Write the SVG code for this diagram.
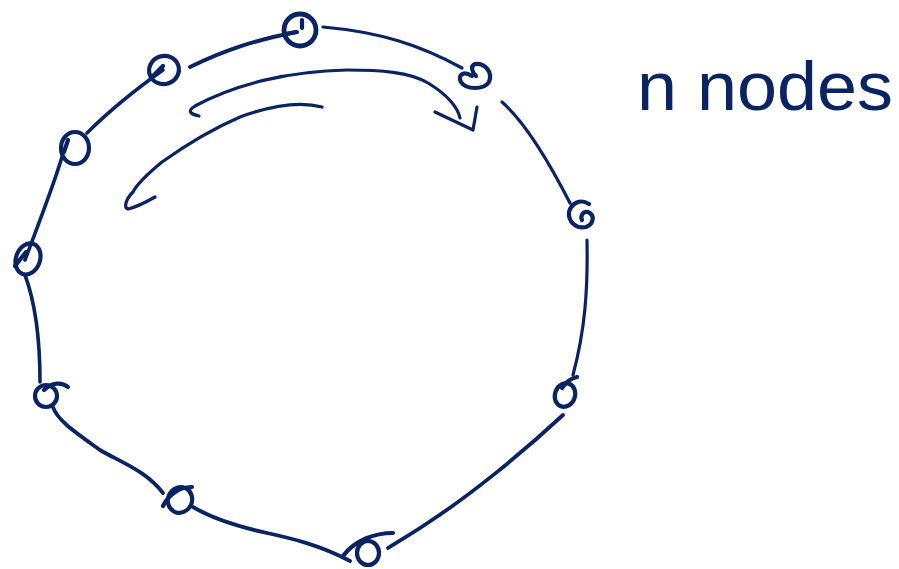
<svg xmlns="http://www.w3.org/2000/svg" width="899" height="569" viewBox="0 0 899 569">
<style>
.s{fill:none;stroke:#0a2463;stroke-width:3.2;stroke-linecap:round;stroke-linejoin:round}
.n{fill:none;stroke:#0a2463;stroke-width:4.2;stroke-linecap:round}
.t{font-family:"Liberation Sans",Arial,sans-serif;fill:#0a2463}
</style>
<rect width="899" height="569" fill="#fff"/>
<g id="connectors">
<path class="s" style="stroke-width:4" d="M190,67 C225,50 255,40 297,32"/>
<path class="s" d="M323,27 C380,32 420,45 462,68"/>
<path class="s" d="M502,102 C525,122 548,160 570,203"/>
<path class="s" d="M587,240 C588,290 585,330 573,375"/>
<path class="s" style="stroke-width:3.8" d="M563,415 C520,455 470,495 432,520 C415,532 400,540 388,548"/>
<path class="s" style="stroke-width:3.8" d="M350,561 C320,545 290,538 267,533 C240,527 215,520 193,507"/>
<path class="s" style="stroke-width:3.8" d="M163,493 C145,470 120,462 100,450 C75,432 57,420 53,407"/>
<path class="s" style="stroke-width:3.6" d="M40,382 C40,350 38,310 25,275"/>
<path class="s" style="stroke-width:3.6" d="M25,260 C38,225 52,190 62,157"/>
<path class="s" style="stroke-width:3.6" d="M87,133 C110,110 135,90 163,70"/>
<path class="s" d="M199,116 C190,114 187,111 195,106 C235,84 290,71 347,70 C380,70 410,72 428,83 C448,95 458,108 460,118"/>
<path class="s" d="M435,112 L473,130 L477,107"/>
<path class="s" d="M322,107 C300,101 270,106 240,117 C210,130 183,147 162,162 C145,176 136,186 133,192 C125,200 124,208 128,209 C137,207 148,201 155,197"/>
</g>
<g id="node1"><ellipse class="n" style="stroke-width:4.8" cx="300" cy="30" rx="16" ry="16"/><path class="n" d="M285,34 L296,32 M302,20 L302,28"/></g>
<g id="node2"><ellipse class="n" cx="164" cy="70" rx="15" ry="14" transform="rotate(-20 164 70)"/><path class="n" d="M151,78 L163,66"/></g>
<g id="node3"><ellipse class="n" cx="75" cy="148" rx="14" ry="16"/><path class="n" d="M64,152 L68,140"/></g>
<g id="node4"><ellipse class="n" cx="28" cy="259" rx="12" ry="16" transform="rotate(20 28 259)"/><path class="n" d="M15,266 L26,252"/></g>
<g id="node5"><ellipse class="n" cx="46" cy="396" rx="11" ry="11"/><path class="n" d="M44,390 C52,382 62,382 68,387"/></g>
<g id="node6"><ellipse class="n" cx="180" cy="500" rx="12" ry="13" transform="rotate(25 180 500)"/><path class="n" d="M163,506 C168,496 178,487 192,487"/></g>
<g id="node7"><ellipse class="n" cx="368" cy="553" rx="11" ry="12"/><path class="n" d="M343,556 C355,540 375,533 393,533"/></g>
<g id="node8"><ellipse class="n" cx="565" cy="395" rx="10" ry="12" transform="rotate(20 565 395)"/><path class="n" d="M562,388 C566,382 572,378 577,377"/></g>
<g id="node9"><path class="n" d="M589,204 C580,198 571,204 569,212 C568,222 576,229 586,227 C594,224 595,215 588,212 C583,211 580,216 582,220"/></g>
<g id="node10"><path class="n" d="M472,76 C462,70 458,76 461,82 C466,90 484,90 489,82 C493,72 485,63 475,64 C470,66 472,72 476,76"/></g>
<g id="label"><text class="t" x="637" y="110" font-size="68" textLength="256" lengthAdjust="spacingAndGlyphs">n nodes</text></g>
</svg>
